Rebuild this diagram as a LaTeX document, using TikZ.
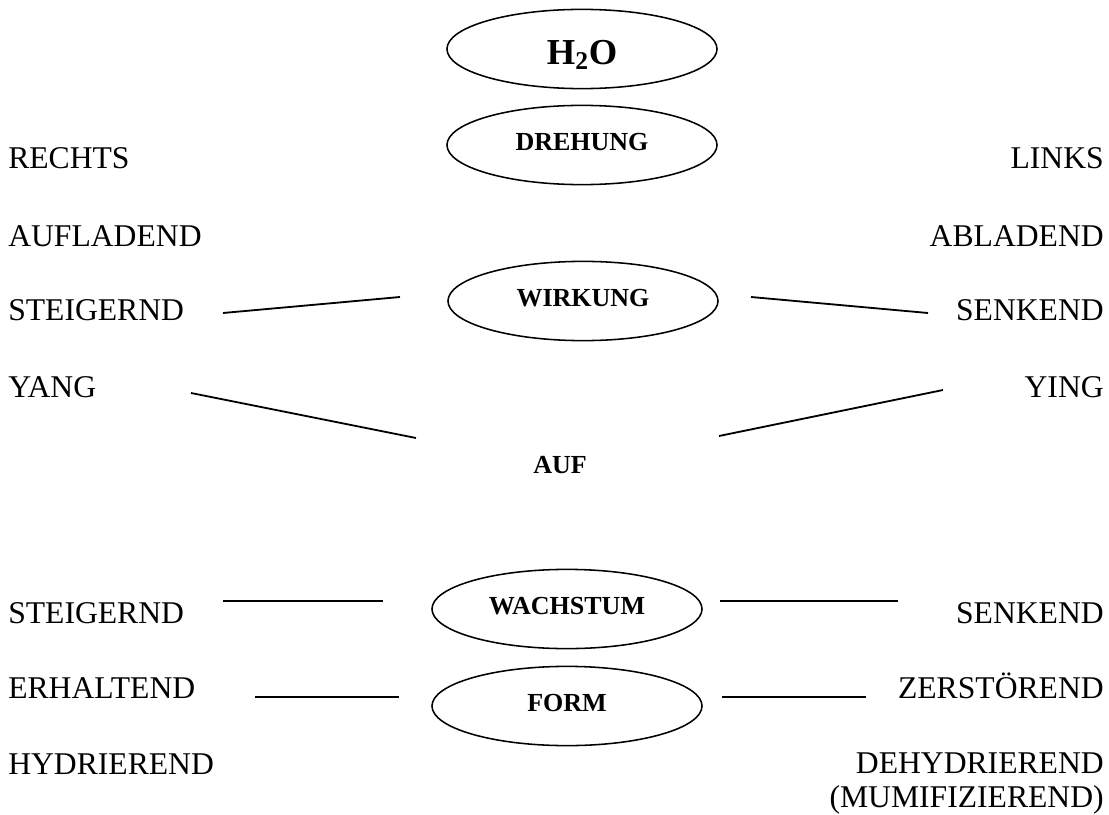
\documentclass[tikz,border=0pt]{standalone}
\usepackage{fontspec}
\setmainfont{Liberation Serif}
\usetikzlibrary{shapes.geometric}

\begin{document}
\begin{tikzpicture}[x=0.025cm, y=-0.025cm,
  oval/.style={ellipse, draw, line width=1.1pt, minimum width=6.75cm, minimum height=1.98cm, inner sep=0pt,
    font=\bfseries\fontsize{18.5}{22}\selectfont, text height=0.45cm, text depth=0.2cm},
  word/.style={font=\fontsize{22.5}{23.5}\selectfont, inner sep=0pt},
  link/.style={line width=1.3pt}]
  \useasboundingbox (0,0) rectangle (1109,814);

  % centre column
  \node[oval, font=\bfseries\fontsize{26}{30}\selectfont, text height=0.75cm, text depth=0cm] (water) at (582,49) {H\textsubscript{2}O};
  \node[oval] (drehung) at (582,145) {DREHUNG};
  \node[oval] (wirkung) at (583,301) {WIRKUNG};
  \node[font=\bfseries\fontsize{18.5}{22}\selectfont, inner sep=0pt] (auf) at (560,465) {AUF};
  \node[oval] (wachstum) at (567,609) {WACHSTUM};
  \node[oval] (form) at (567,706) {FORM};

  % left column
  \node[word, anchor=base west] (rechts) at (8,169) {RECHTS};
  \node[word, anchor=base west] (aufladend) at (8,246) {AUFLADEND};
  \node[word, anchor=base west] (steigA) at (8,320) {STEIGERND};
  \node[word, anchor=base west] (yang) at (8,397) {YANG};
  \node[word, anchor=base west] (steigB) at (8,623) {STEIGERND};
  \node[word, anchor=base west] (erhaltend) at (8,698) {ERHALTEND};
  \node[word, anchor=base west] (hydrierend) at (8,774) {HYDRIEREND};

  % right column
  \node[word, anchor=base east] (links) at (1104,169) {LINKS};
  \node[word, anchor=base east] (abladend) at (1104,246) {ABLADEND};
  \node[word, anchor=base east] (senkA) at (1104,320) {SENKEND};
  \node[word, anchor=base east] (ying) at (1104,397) {YING};
  \node[word, anchor=base east] (senkB) at (1104,623) {SENKEND};
  \node[word, anchor=base east] (zerstoerend) at (1104,698) {ZERSTÖREND};
  \node[word, anchor=base east, align=right] (dehydrierend) at (1104,807) {DEHYDRIEREND\\(MUMIFIZIEREND)};

  % line ends
  \coordinate (steigA-r) at (223,313);
  \coordinate (wirkung-l) at (400,297);
  \coordinate (wirkung-r) at (751,297);
  \coordinate (senkA-l) at (928,313);
  \coordinate (yang-r) at (191,393);
  \coordinate (auf-l) at (416,438);
  \coordinate (auf-r) at (719,436);
  \coordinate (ying-l) at (943,390);
  \coordinate (steigB-r) at (223,601);
  \coordinate (wachstum-l) at (383,601);
  \coordinate (wachstum-r) at (720,601);
  \coordinate (senkB-l) at (898,601);
  \coordinate (erhaltend-r) at (255,697);
  \coordinate (form-l) at (399,697);
  \coordinate (form-r) at (722,697);
  \coordinate (zerstoerend-l) at (866,697);

  \draw[link] (steigA-r) -- (wirkung-l);
  \draw[link] (wirkung-r) -- (senkA-l);
  \draw[link] (yang-r) -- (auf-l);
  \draw[link] (auf-r) -- (ying-l);
  \draw[link] (steigB-r) -- (wachstum-l);
  \draw[link] (wachstum-r) -- (senkB-l);
  \draw[link] (erhaltend-r) -- (form-l);
  \draw[link] (form-r) -- (zerstoerend-l);
\end{tikzpicture}
\end{document}
